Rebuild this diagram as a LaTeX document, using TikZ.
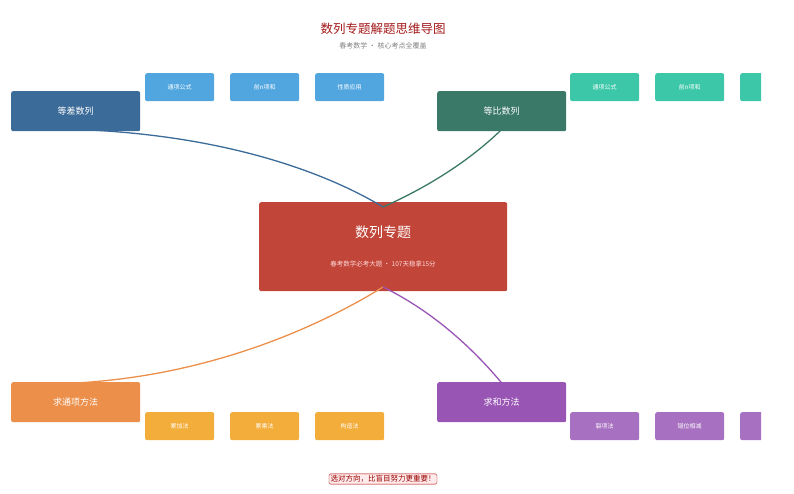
\documentclass[tikz,border=0pt]{standalone}
\usepackage{fontspec}
\setmainfont{Noto Sans CJK SC}
\begin{document}
\begin{tikzpicture}[x=1pt,y=-1pt,
 box/.style={draw=none,rounded corners=2pt,minimum height=#1,anchor=north west,inner sep=0pt,text=white},
 main/.style={box=40pt,minimum width=129pt,font=\fontsize{9}{10}\selectfont},
 sub/.style={box=28pt,minimum width=69pt,font=\fontsize{6}{7}\selectfont},
 conn/.style={line width=1.3pt}]
\useasboundingbox (0,0) rectangle (794,494);
\definecolor{c1}{RGB}{59,107,152}\definecolor{s1}{RGB}{82,166,224}
\definecolor{c2}{RGB}{58,120,103}\definecolor{s2}{RGB}{60,200,168}
\definecolor{c3}{RGB}{235,143,74}\definecolor{s3}{RGB}{243,173,58}
\definecolor{c4}{RGB}{152,85,180}\definecolor{s4}{RGB}{168,112,192}
\node[font=\fontsize{12.5}{14}\selectfont,text=red!60!black!90] (t) at (383,29) {数列专题解题思维导图};
\node[font=\fontsize{7}{8}\selectfont,text=gray] (st) at (383,46) {春考数学 · 核心考点全覆盖};
\node[box=89pt,minimum width=248pt,fill={rgb,255:red,193;green,69;blue,56}] (c) at (259,202) {};
\node[font=\fontsize{14}{16}\selectfont,text=white] (ct) at (383,232) {数列专题};
\node[font=\fontsize{6.5}{8}\selectfont,text=white!85!red] (cs) at (383,264) {春考数学必考大题 · 107天稳拿15分};
\node[main,fill=c1] (a) at (11,91) {等差数列};
\node[main,fill=c2] (b) at (437,91) {等比数列};
\node[main,fill=c3] (d) at (11,382) {求通项方法};
\node[main,fill=c4] (e) at (437,382) {求和方法};
\node[sub,fill=s1] (a1) at (145,73) {通项公式};
\node[sub,fill=s1] (a2) at (230,73) {前n项和};
\node[sub,fill=s1] (a3) at (315,73) {性质应用};
\node[sub,fill=s3] (d1) at (145,412) {累加法};
\node[sub,fill=s3] (d2) at (230,412) {累乘法};
\node[sub,fill=s3] (d3) at (315,412) {构造法};
\begin{scope}
\clip (0,0) rectangle (761,494);
\node[sub,fill=s2] (b1) at (570,73) {通项公式};
\node[sub,fill=s2] (b2) at (655,73) {前n项和};
\node[sub,fill=s2] (b3) at (740,73) {};
\node[sub,fill=s4] (e1) at (570,412) {裂项法};
\node[sub,fill=s4] (e2) at (655,412) {错位相减};
\node[sub,fill=s4] (e3) at (740,412) {};
\end{scope}
\coordinate (ctop) at (383,207);
\coordinate (cbot) at (383,287);
\draw[conn,c1] ([yshift=2pt]a.south) .. controls (230,135) and (330,175) .. (ctop);
\draw[conn,c2] ([yshift=2pt]b.south) .. controls (460,170) and (410,195) .. (ctop);
\draw[conn,c3] (cbot) .. controls (330,320) and (220,375) .. ([yshift=-1pt]d.north);
\draw[conn,c4] (cbot) .. controls (430,310) and (470,345) .. ([yshift=-1pt]e.north);
\node[draw=red!70!black,fill=red!8,rounded corners=1.5pt,inner sep=1.5pt,font=\fontsize{7.5}{8}\selectfont,text=red!60!black] (f) at (383,479) {选对方向，比盲目努力更重要！};
\end{tikzpicture}
\end{document}
